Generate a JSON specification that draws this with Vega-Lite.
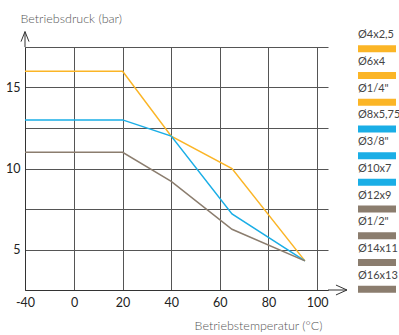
{
  "$schema": "https://vega.github.io/schema/vega-lite/v6.json",
  "padding": {"left": 5, "top": 12, "right": 0, "bottom": 0},
  "spacing": 9,
  "config": {
    "view": {"stroke": null},
    "font": "Lato",
    "axis": {
      "labelFont": "Lato",
      "titleFont": "Lato",
      "labelFontSize": 12.5,
      "labelColor": "#222222",
      "titleFontSize": 12.5,
      "titleFontWeight": 300,
      "titleColor": "#555555",
      "ticks": false,
      "tickSize": 0,
      "domainColor": "#333333",
      "gridColor": "#555555",
      "gridOpacity": 1,
      "gridWidth": 1
    }
  },
  "hconcat": [
    {
      "width": 303,
      "height": 243,
      "layer": [
        {
          "data": {
            "values": [
              {"series": "A", "temp": -40, "pressure": 16},
              {"series": "A", "temp": 20, "pressure": 16},
              {"series": "A", "temp": 40, "pressure": 12},
              {"series": "A", "temp": 65, "pressure": 10},
              {"series": "A", "temp": 95, "pressure": 4.3},
              {"series": "B", "temp": -40, "pressure": 13},
              {"series": "B", "temp": 20, "pressure": 13},
              {"series": "B", "temp": 40, "pressure": 12},
              {"series": "B", "temp": 65, "pressure": 7.2},
              {"series": "B", "temp": 95, "pressure": 4.3},
              {"series": "C", "temp": -40, "pressure": 11},
              {"series": "C", "temp": 20, "pressure": 11},
              {"series": "C", "temp": 40, "pressure": 9.2},
              {"series": "C", "temp": 65, "pressure": 6.25},
              {"series": "C", "temp": 95, "pressure": 4.3}
            ]
          },
          "mark": {"type": "line", "strokeWidth": 1.5},
          "encoding": {
            "x": {
              "field": "temp",
              "type": "quantitative",
              "scale": {"type": "linear", "domain": [-40, 0, 104.5], "range": [0, 49, 303], "nice": false, "zero": false},
              "axis": {
                "values": [-40, 0, 20, 40, 60, 80, 100],
                "labelExpr": "'' + datum.value",
                "labelPadding": 6,
                "labelFlush": false,
                "title": "Betriebstemperatur (°C)",
                "titleX": 233,
                "titleY": 35,
                "titleAlign": "center",
                "titleBaseline": "middle"
              }
            },
            "y": {
              "field": "pressure",
              "type": "quantitative",
              "scale": {"domain": [2.5, 17.5], "nice": false, "zero": false},
              "axis": {
                "values": [2.5, 5, 7.5, 10, 12.5, 15, 17.5],
                "labelExpr": "datum.value % 5 === 0 ? datum.label : ''",
                "labelPadding": 5,
                "labelFlush": false,
                "title": "Betriebsdruck (bar)",
                "titleAngle": 0,
                "titleAlign": "left",
                "titleBaseline": "middle",
                "titleX": -5,
                "titleY": -29
              }
            },
            "color": {
              "field": "series",
              "type": "nominal",
              "scale": {"domain": ["A", "B", "C"], "range": ["#FBB526", "#1AAEE6", "#8B7D6E"]},
              "legend": null
            }
          }
        },
        {
          "data": {"values": [{}]},
          "mark": {"type": "rule", "color": "#333333", "strokeWidth": 1},
          "encoding": {
            "x": {"datum": 104.5, "type": "quantitative"},
            "x2": {"datum": 112.3},
            "y": {"datum": 2.5, "type": "quantitative"}
          }
        },
        {
          "data": {"values": [{}]},
          "mark": {"type": "point", "shape": "M-1,-0.45L0,0L-1,0.45", "size": 484, "filled": false, "color": "#333333", "strokeWidth": 1, "opacity": 1},
          "encoding": {
            "x": {"datum": 112.3, "type": "quantitative"},
            "y": {"datum": 2.5, "type": "quantitative"}
          }
        },
        {
          "data": {"values": [{}]},
          "mark": {"type": "rule", "color": "#333333", "strokeWidth": 1},
          "encoding": {
            "x": {"datum": -40, "type": "quantitative"},
            "y": {"datum": 17.5, "type": "quantitative"},
            "y2": {"datum": 18.45}
          }
        },
        {
          "data": {"values": [{}]},
          "mark": {"type": "point", "shape": "M-0.4,1L0,0L0.4,1", "size": 400, "filled": false, "color": "#333333", "strokeWidth": 1, "opacity": 1},
          "encoding": {
            "x": {"datum": -40, "type": "quantitative"},
            "y": {"datum": 18.45, "type": "quantitative"}
          }
        }
      ]
    },
    {
      "width": 38,
      "height": 267,
      "data": {
        "values": [
          {"label": "Ø4x2,5", "series": "A"},
          {"label": "Ø6x4", "series": "A"},
          {"label": "Ø1/4\"", "series": "A"},
          {"label": "Ø8x5,75", "series": "B"},
          {"label": "Ø3/8\"", "series": "B"},
          {"label": "Ø10x7", "series": "B"},
          {"label": "Ø12x9", "series": "C"},
          {"label": "Ø1/2\"", "series": "C"},
          {"label": "Ø14x11", "series": "C"},
          {"label": "Ø16x13", "series": "C"}
        ]
      },
      "layer": [
        {
          "mark": {"type": "text", "align": "left", "baseline": "middle", "fontSize": 11, "color": "#444444", "font": "Lato", "yOffset": -25},
          "encoding": {
            "x": {"datum": 0, "type": "quantitative", "scale": {"domain": [0, 1], "nice": false}, "axis": null},
            "y": {"field": "label", "type": "nominal", "sort": null, "scale": {"type": "band", "paddingInner": 0, "paddingOuter": 0}, "axis": null},
            "text": {"field": "label"}
          }
        },
        {
          "mark": {"type": "bar", "height": 7, "yOffset": -11.5},
          "encoding": {
            "x": {"datum": 0, "type": "quantitative", "scale": {"domain": [0, 1], "nice": false}, "axis": null},
            "x2": {"datum": 1},
            "y": {"field": "label", "type": "nominal", "sort": null, "axis": null},
            "color": {
              "field": "series",
              "type": "nominal",
              "scale": {"domain": ["A", "B", "C"], "range": ["#FBB526", "#1AAEE6", "#8B7D6E"]},
              "legend": null
            }
          }
        }
      ]
    }
  ]
}
